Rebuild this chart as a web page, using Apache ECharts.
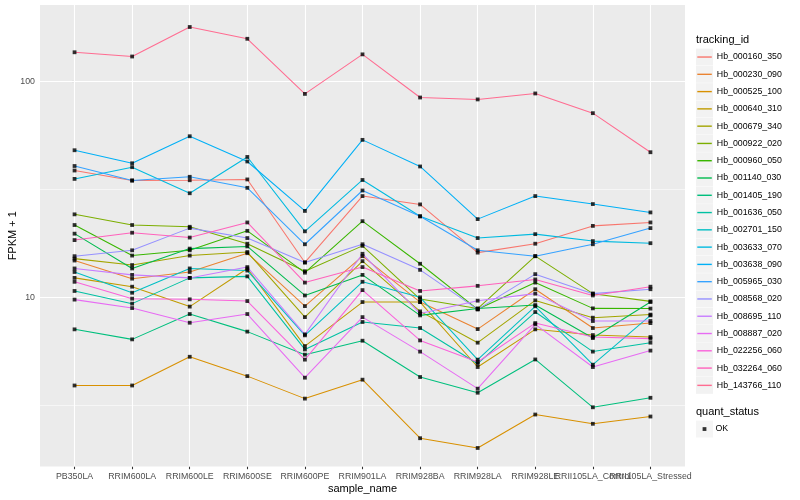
<!DOCTYPE html>
<html>
<head>
<meta charset="utf-8">
<script src="https://cdn.jsdelivr.net/npm/echarts/dist/echarts.min.js"></script>
<style>
html,body{margin:0;padding:0;background:#fff;}
#chart{width:800px;height:500px;}
</style>
</head>
<body>
<div id="chart"></div>
<script>
// ---- data ----
const categories = ['PB350LA','RRIM600LA','RRIM600LE','RRIM600SE','RRIM600PE','RRIM901LA','RRIM928BA','RRIM928LA','RRIM928LE','RRII105LA_Control','RRII105LA_Stressed'];

const Hb_000160_350 = [38.6, 34.7, 34.8, 35.1, 14.5, 29.4, 26.9, 16.1, 17.7, 21.4, 22.2];
const Hb_000230_090 = [14.8, 12.2, 13.1, 16.0, 9.11, 15.5, 9.51, 7.13, 10.9, 7.21, 7.60];
const Hb_000525_100 = [3.91, 3.91, 5.31, 4.32, 3.40, 4.16, 2.23, 2.01, 2.87, 2.60, 2.81];
const Hb_000640_310 = [12.3, 11.2, 9.06, 13.6, 5.95, 9.51, 9.51, 4.76, 7.11, 6.69, 6.55];
const Hb_000679_340 = [15.1, 14.1, 15.6, 16.2, 8.10, 14.7, 8.61, 6.17, 9.68, 8.05, 8.32];
const Hb_000922_020 = [24.2, 21.6, 21.2, 17.7, 13.2, 17.3, 9.82, 8.87, 15.5, 10.4, 9.58];
const Hb_000960_050 = [21.6, 15.6, 16.5, 20.3, 13.0, 22.5, 14.3, 8.80, 11.7, 8.89, 8.87];
const Hb_001140_030 = [19.7, 13.6, 16.8, 17.2, 10.2, 12.7, 8.25, 8.87, 9.21, 6.48, 9.51];
const Hb_001405_190 = [7.11, 6.39, 8.37, 6.94, 5.43, 6.30, 4.28, 3.62, 5.16, 3.10, 3.43];
const Hb_001636_050 = [10.7, 9.35, 12.3, 12.5, 5.74, 7.69, 7.21, 4.93, 8.55, 5.61, 6.17];
const Hb_002701_150 = [13.1, 10.5, 13.6, 13.3, 6.67, 11.8, 10.0, 5.15, 9.09, 4.88, 8.25];
const Hb_003633_070 = [35.3, 40.0, 30.3, 44.6, 20.2, 34.9, 23.7, 18.8, 19.6, 18.2, 17.8];
const Hb_003638_090 = [47.9, 41.7, 55.6, 42.5, 25.1, 53.5, 40.3, 23.0, 29.4, 27.0, 24.7];
const Hb_005965_030 = [40.5, 34.7, 36.1, 32.1, 17.6, 31.2, 23.7, 16.5, 15.5, 17.6, 20.9];
const Hb_008568_020 = [15.5, 16.5, 20.9, 18.8, 14.5, 17.6, 13.4, 8.80, 12.8, 10.4, 10.9];
const Hb_008695_110 = [13.6, 12.7, 12.3, 13.8, 6.74, 15.9, 8.41, 9.65, 10.4, 7.77, 7.77];
const Hb_008887_020 = [9.76, 8.92, 7.63, 8.37, 4.25, 8.10, 5.61, 3.78, 7.50, 4.76, 5.67];
const Hb_022256_060 = [11.8, 9.86, 9.79, 9.61, 5.15, 10.8, 6.32, 5.02, 7.60, 6.55, 6.44];
const Hb_032264_060 = [18.4, 19.9, 18.9, 22.2, 11.7, 13.8, 10.7, 11.3, 12.1, 10.2, 11.2];
const Hb_143766_110 = [136, 130, 178, 157, 87.3, 133, 84.0, 82.3, 87.7, 71.1, 46.9];

const seriesNames = ['Hb_000160_350','Hb_000230_090','Hb_000525_100','Hb_000640_310','Hb_000679_340','Hb_000922_020','Hb_000960_050','Hb_001140_030','Hb_001405_190','Hb_001636_050','Hb_002701_150','Hb_003633_070','Hb_003638_090','Hb_005965_030','Hb_008568_020','Hb_008695_110','Hb_008887_020','Hb_022256_060','Hb_032264_060','Hb_143766_110'];
const seriesValues = [Hb_000160_350,Hb_000230_090,Hb_000525_100,Hb_000640_310,Hb_000679_340,Hb_000922_020,Hb_000960_050,Hb_001140_030,Hb_001405_190,Hb_001636_050,Hb_002701_150,Hb_003633_070,Hb_003638_090,Hb_005965_030,Hb_008568_020,Hb_008695_110,Hb_008887_020,Hb_022256_060,Hb_032264_060,Hb_143766_110];
const colors = ['#F8766D','#EA8331','#D89000','#C09B00','#A3A500','#7CAE00','#39B600','#00BB4E','#00BF7D','#00C1A3','#00BFC4','#00BAE0','#00B0F6','#35A2FF','#9590FF','#C77CFF','#E76BF3','#FA62DB','#FF62BC','#FF6C91'];

const yTicks = [10, 100];
const yMinorGrid = [3.1623, 31.623];
const statusName = 'OK';

// ---- chart ----
const FONT = '"Liberation Sans", Arial, Helvetica, sans-serif';
const xIdx = categories.map((c, i) => i);
const xEven = xIdx.filter(i => i % 2 === 0);
const xOdd = xIdx.filter(i => i % 2 === 1);

const lineSeries = seriesNames.map((n, k) => ({
  name: n,
  type: 'line',
  data: seriesValues[k].map((v, i) => [i, v]),
  showSymbol: false,
  symbol: 'none',
  lineStyle: { color: colors[k], width: 1.05 },
  itemStyle: { color: colors[k] },
  z: 2,
  silent: true
}));

const points = [];
seriesValues.forEach(arr => arr.forEach((v, i) => points.push([i, v])));

const gridLines = [];
yMinorGrid.forEach(v => gridLines.push({ yAxis: v, lineStyle: { color: '#FFFFFF', width: 0.55, type: 'solid' } }));
yTicks.forEach(v => gridLines.push({ yAxis: v, lineStyle: { color: '#FFFFFF', width: 1.1, type: 'solid' } }));
xIdx.forEach(i => gridLines.push({ xAxis: i, lineStyle: { color: '#FFFFFF', width: 1.1, type: 'solid' } }));

const gridSeries = {
  name: '__grid',
  type: 'line',
  data: [],
  silent: true,
  markLine: {
    silent: true,
    z: 1,
    symbol: ['none', 'none'],
    label: { show: false },
    emphasis: { disabled: true },
    animation: false,
    data: gridLines
  }
};

const pointSeries = {
  name: statusName,
  type: 'scatter',
  data: points,
  symbol: 'rect',
  symbolSize: 3.8,
  itemStyle: { color: '#000000' },
  z: 4,
  silent: true
};

const legendText = { fontSize: 8.8, lineHeight: 17.28, fontFamily: FONT, color: '#000000' };
const clearText = Object.assign({}, legendText, { color: 'rgba(0,0,0,0)' });
const okText = Object.assign({}, legendText, { padding: [0, 0, 0, 4] });

function xAxisDef(vals, withName) {
  const ax = {
    type: 'value', min: -0.6, max: 10.6, position: 'bottom', gridIndex: 0,
    splitLine: { show: false }, axisLine: { show: false },
    axisTick: { show: true, customValues: vals, length: 2.7, lineStyle: { color: '#333333', width: 1.07 } },
    axisLabel: {
      customValues: vals, formatter: v => categories[Math.round(v)],
      color: '#4D4D4D', fontSize: 8.8, fontFamily: FONT, margin: 6, hideOverlap: false
    }
  };
  if (withName) {
    ax.name = 'sample_name';
    ax.nameLocation = 'middle';
    ax.nameGap = 16.5;
    ax.nameMoveOverlap = false;
    ax.nameTextStyle = { fontSize: 11, color: '#000', fontFamily: FONT };
  }
  return ax;
}

const option = {
  animation: false,
  backgroundColor: '#FFFFFF',
  title: [
    { text: 'tracking_id', left: 696, top: 33.5, padding: 0,
      textStyle: { fontSize: 11, fontWeight: 'normal', color: '#000', fontFamily: FONT, lineHeight: 13 } },
    { text: 'quant_status', left: 696, top: 405.5, padding: 0,
      textStyle: { fontSize: 11, fontWeight: 'normal', color: '#000', fontFamily: FONT, lineHeight: 13 } }
  ],
  legend: [
    { // key backgrounds
      orient: 'vertical', left: 696, top: 48.4, padding: 0, itemGap: 0,
      itemWidth: 17, itemHeight: 16.9, icon: 'rect', selectedMode: false, z: 3,
      data: seriesNames.map(n => ({ name: n, itemStyle: { color: '#F2F2F2', borderWidth: 0 } })),
      textStyle: clearText
    },
    { // key lines + labels
      orient: 'vertical', left: 697.3, top: 48.4, padding: 0, itemGap: 0,
      itemWidth: 14.5, itemHeight: 1.4, icon: 'rect', selectedMode: false, z: 4,
      data: seriesNames.map((n, k) => ({ name: n, itemStyle: { color: colors[k], borderWidth: 0 } })),
      textStyle: legendText
    },
    {
      orient: 'vertical', left: 696, top: 420.4, padding: 0, itemGap: 0,
      itemWidth: 17, itemHeight: 16.9, icon: 'rect', selectedMode: false, z: 3,
      data: [{ name: statusName, itemStyle: { color: '#F2F2F2', borderWidth: 0 } }],
      textStyle: clearText
    },
    {
      orient: 'vertical', left: 702.6, top: 420.4, padding: 0, itemGap: 0,
      itemWidth: 3.8, itemHeight: 3.8, icon: 'rect',
      selectedMode: false, z: 4,
      data: [{ name: statusName, itemStyle: { color: '#000000', borderWidth: 0 } }],
      textStyle: okText
    }
  ],
  grid: {
    left: 40, top: 5, width: 645, height: 461.5,
    show: true, backgroundColor: '#EBEBEB', borderWidth: 0,
    containLabel: false, outerBoundsMode: 'none'
  },
  xAxis: [xAxisDef(xEven, true), xAxisDef(xOdd, false)],
  yAxis: {
    type: 'log', logBase: 10, min: 1.65, max: 225,
    splitLine: { show: false }, minorSplitLine: { show: false }, axisLine: { show: false },
    axisTick: { show: true, customValues: yTicks, length: 2.7, lineStyle: { color: '#333333', width: 1.07 } },
    axisLabel: { customValues: yTicks, color: '#4D4D4D', fontSize: 8.8, fontFamily: FONT, margin: 5 },
    name: 'FPKM + 1', nameLocation: 'middle', nameGap: 22, nameMoveOverlap: false,
    nameTextStyle: { fontSize: 11, color: '#000', fontFamily: FONT }
  },
  series: [gridSeries].concat(lineSeries).concat([pointSeries])
};

const chart = echarts.init(document.getElementById('chart'), null, { renderer: 'canvas' });
chart.setOption(option);
</script>
</body>
</html>
